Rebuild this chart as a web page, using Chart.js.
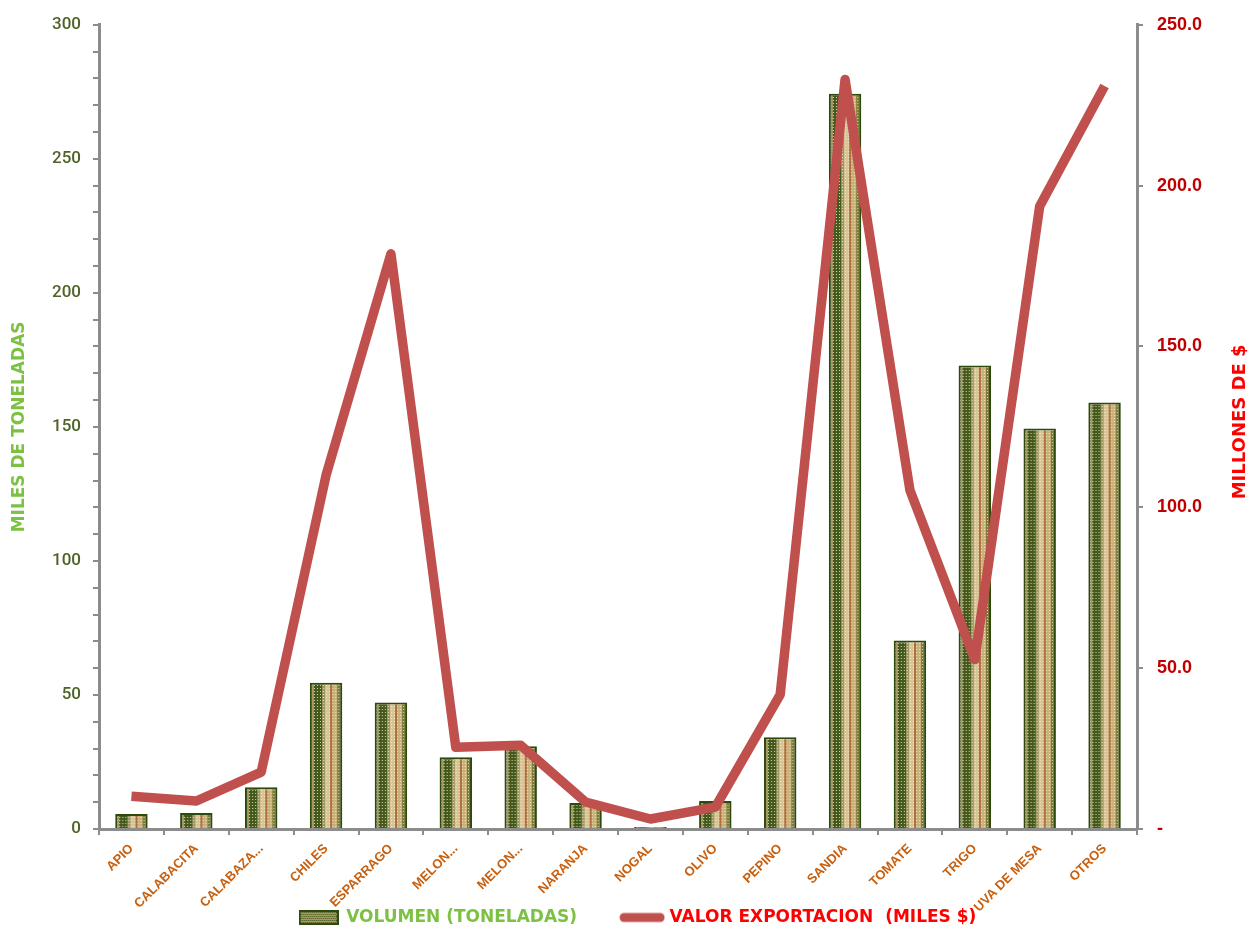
<!DOCTYPE html>
<html>
<head>
<meta charset="utf-8">
<script src="https://cdn.jsdelivr.net/npm/chart.js@4.4.1/dist/chart.umd.min.js"></script>
<style>
html,body{margin:0;padding:0;background:#fff;}
#wrap{width:1252px;height:930px;position:relative;}
</style>
</head>
<body>
<div id="wrap"><canvas id="c" width="1252" height="930"></canvas></div>
<script>
const categories = ["APIO","CALABACITA","CALABAZA...","CHILES","ESPARRAGO","MELON...","MELON...","NARANJA","NOGAL","OLIVO","PEPINO","SANDIA","TOMATE","TRIGO","UVA DE MESA","OTROS"];
const volumenToneladas = [5.6, 6.0, 15.6, 54.6, 47.2, 26.8, 30.9, 9.7, 0.7, 10.4, 34.2, 274.3, 70.3, 172.9, 149.4, 159.1];
const valorExportacion = [10.2, 8.7, 17.7, 110.0, 178.8, 25.4, 26.0, 8.4, 3.1, 6.8, 41.8, 233.0, 105.3, 52.7, 193.6, 231.0];
const leftTickStep = 10, leftLabelStep = 50, leftMax = 300;
const rightTickStep = 50, rightMax = 250;
const seriesNames = ["VOLUMEN (TONELADAS)", "VALOR EXPORTACION  (MILES $)"];
const leftTitle = "MILES DE TONELADAS";
const rightTitle = "MILLONES DE $";
const BAR_PCT = 0.5;

// texture tile for the bars (dark green edges, tan body, dotted)
function makeBarTile(W, H) {
  const c = document.createElement('canvas');
  c.width = W; c.height = H;
  const g = c.getContext('2d');
  for (let x = 0; x < W; x++) {
    const f = (x + 0.5) / W;
    let col;
    if (f < 0.07) col = '#2c480c';
    else if (f < 0.14) col = '#a79868';
    else if (f < 0.36) col = '#445a1c';
    else if (f < 0.46) col = '#9c9660';
    else if (f < 0.64) col = '#d8c597';
    else if (f < 0.70) col = '#b06f3e';
    else if (f < 0.84) col = '#c9b27a';
    else if (f < 0.93) col = '#7b7a3c';
    else col = '#2c480c';
    g.fillStyle = col; g.fillRect(x, 0, 1, H);
  }
  g.fillStyle = 'rgba(246,238,205,0.8)';
  for (let y = 1; y < H; y += 3) for (let x = 1; x < W - 1; x += 3) g.fillRect(x, y, 1, 1);
  return c;
}
const patternCache = {};
function barFill(ctx) {
  const chart = ctx.chart, xs = chart.scales && chart.scales.x;
  if (ctx.type !== 'data' || !xs || !xs.width) return '#8f8a55';
  const w = xs.width / categories.length * BAR_PCT;
  const W = Math.max(4, Math.round(w));
  if (!patternCache[W]) patternCache[W] = makeBarTile(W, 6);
  const pat = chart.ctx.createPattern(patternCache[W], 'repeat');
  const left = xs.getPixelForValue(ctx.dataIndex) - w / 2;
  if (pat.setTransform) pat.setTransform(new DOMMatrix().translate(left, 0).scale(w / W, 1));
  return pat;
}

// legend swatches
const barSwatch = (() => {
  const c = document.createElement('canvas'); c.width = 40; c.height = 15;
  const g = c.getContext('2d');
  g.fillStyle = '#2f4a10'; g.fillRect(0, 0, 40, 15);
  g.fillStyle = '#a59a62'; g.fillRect(2, 2, 36, 11);
  g.fillStyle = '#3d5517';
  for (let y = 2; y < 13; y += 2) for (let x = 2 + (y % 4 ? 1 : 0); x < 38; x += 2) g.fillRect(x, y, 1, 1);
  return c;
})();
const lineSwatch = (() => {
  const c = document.createElement('canvas'); c.width = 46; c.height = 12;
  const g = c.getContext('2d');
  g.strokeStyle = '#c0504d'; g.lineWidth = 9; g.lineCap = 'round';
  g.beginPath(); g.moveTo(5, 6); g.lineTo(41, 6); g.stroke();
  return c;
})();

const extrasPlugin = {
  id: 'extras',
  afterLayout(chart) {
    // rotated category labels run down into the legend band, as in the original
    chart.scales.x.bottom = chart.height;
    if (chart.legend) {
      chart.legend.top += 6; chart.legend.bottom += 6;
      chart.legend.left += 12; chart.legend.right += 12;
    }
  },
  afterDraw(chart) {
    const ctx = chart.ctx, a = chart.chartArea;
    const cy = (a.top + a.bottom) / 2;
    ctx.save();
    ctx.font = 'bold 17px "DejaVu Sans"';
    ctx.textAlign = 'center'; ctx.textBaseline = 'middle';
    ctx.translate(a.left - 79, cy);
    ctx.rotate(-Math.PI/2);
    ctx.fillStyle = '#7cc143';
    ctx.fillText(leftTitle, 0, 0);
    ctx.restore();
    ctx.save();
    ctx.font = 'bold 18px "DejaVu Sans"';
    ctx.textAlign = 'center'; ctx.textBaseline = 'middle';
    ctx.translate(a.right + 103, cy - 5);
    ctx.rotate(-Math.PI/2);
    ctx.fillStyle = '#ff0000';
    ctx.fillText(rightTitle, 0, 0);
    ctx.restore();
  }
};

new Chart(document.getElementById('c'), {
  data: {
    labels: categories,
    datasets: [
      {
        type: 'line',
        label: seriesNames[1],
        data: valorExportacion,
        yAxisID: 'y2',
        borderColor: '#c0504d',
        backgroundColor: '#c0504d',
        borderWidth: 9.5,
        borderJoinStyle: 'round',
        pointRadius: 0,
        pointHoverRadius: 0,
        tension: 0,
        order: 0
      },
      {
        type: 'bar',
        label: seriesNames[0],
        data: volumenToneladas,
        yAxisID: 'y',
        backgroundColor: barFill,
        borderColor: '#2b4a0c',
        borderWidth: 2,
        barPercentage: BAR_PCT,
        categoryPercentage: 1.0,
        order: 1
      }
    ]
  },
  options: {
    responsive: false,
    animation: false,
    devicePixelRatio: 1,
    layout: { padding: { top: 19, left: 0, right: 0, bottom: 0 } },
    plugins: {
      tooltip: { enabled: false },
      legend: {
        position: 'bottom',
        labels: {
          usePointStyle: true,
          pointStyleWidth: 38,
          boxHeight: 14,
          padding: 46,
          font: { family: '"DejaVu Sans"', size: 17, weight: 'bold' },
          generateLabels(chart) {
            const ds = chart.data.datasets;
            const order = [1, 0];
            return order.map(i => ({
              text: ds[i].label,
              fillStyle: ds[i].type === 'bar' ? '#a59a62' : '#c0504d',
              strokeStyle: ds[i].type === 'bar' ? '#2b4a0c' : '#c0504d',
              lineWidth: 0,
              pointStyle: ds[i].type === 'bar' ? barSwatch : lineSwatch,
              fontColor: ds[i].type === 'bar' ? '#7cc143' : '#ff0000',
              hidden: false,
              datasetIndex: i
            }));
          }
        }
      }
    },
    scales: {
      x: {
        offset: true,
        grid: { display: true, drawOnChartArea: false, offset: true, tickLength: 6, color: '#8c8c8c', lineWidth: 2 },
        border: { display: true, color: '#8c8c8c', width: 3 },
        ticks: {
          autoSkip: false, minRotation: 45, maxRotation: 45,
          color: '#c8600f',
          font: { family: '"Liberation Sans"', size: 13, weight: 'bold' },
          padding: 6
        },
        afterFit(s) { s.height = 28; }
      },
      y: {
        position: 'left',
        min: 0, max: leftMax,
        grid: { display: true, drawOnChartArea: false, tickLength: 6, color: '#8c8c8c', lineWidth: 2 },
        border: { display: true, color: '#8c8c8c', width: 3 },
        ticks: {
          stepSize: leftTickStep, autoSkip: false,
          color: '#4f6228',
          font: { family: 'Roboto', size: 17, weight: '500' },
          padding: 12,
          callback: v => (v % leftLabelStep === 0 ? String(v) : '')
        },
        afterFit(s) { s.width = 99; }
      },
      y2: {
        position: 'right',
        min: 0, max: rightMax,
        grid: { display: true, drawOnChartArea: false, tickLength: 6, color: '#8c8c8c', lineWidth: 2 },
        border: { display: true, color: '#8c8c8c', width: 3 },
        ticks: {
          stepSize: rightTickStep,
          color: '#c00000',
          font: { family: '"Liberation Sans"', size: 18, weight: 'bold' },
          padding: 14,
          callback: v => (v === 0 ? '-' : v.toFixed(1))
        },
        afterFit(s) { s.width = 115; }
      }
    }
  },
  plugins: [extrasPlugin]
});
</script>
</body>
</html>
